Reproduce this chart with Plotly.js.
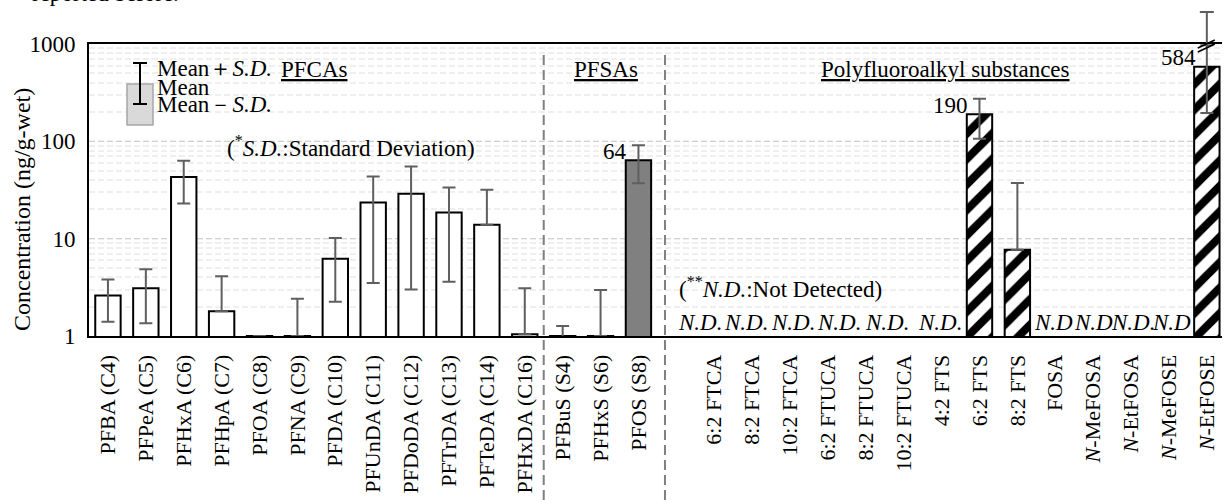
<!DOCTYPE html>
<html><head><meta charset="utf-8">
<script src="https://cdn.plot.ly/plotly-3.0.1.min.js"></script>
<style>
html,body{margin:0;padding:0;background:#fff;}
#chart{width:1225px;height:504px;}
</style></head><body><div id="chart"></div>
<script>
// ---------- data ----------
const pfcaNames = ['PFBA (C4)','PFPeA (C5)','PFHxA (C6)','PFHpA (C7)','PFOA (C8)','PFNA (C9)','PFDA (C10)','PFUnDA (C11)','PFDoDA (C12)','PFTrDA (C13)','PFTeDA (C14)','PFHxDA (C16)'];
const pfcaMean  = [2.6, 3.1, 43, 1.8, 1.0, 1.0, 6.2, 23.5, 29, 18.6, 13.9, 1.04];
const pfcaSD    = [1.2, 1.75, 20, 2.3, 0, 1.42, 3.95, 20, 26, 15, 18, 2.05];

const pfsaNames = ['PFBuS (S4)','PFHxS (S6)','PFOS (S8)'];
const pfsaMean  = [1.0, 1.0, 64];
const pfsaSD    = [0.27, 1.97, 27];

const polyNames = ['6:2 FTCA','8:2 FTCA','10:2 FTCA','6:2 FTUCA','8:2 FTUCA','10:2 FTUCA','4:2 FTS','6:2 FTS','8:2 FTS','FOSA','N-MeFOSA','N-EtFOSA','N-MeFOSE','N-EtFOSE'];
const polyLabels = ['6:2 FTCA','8:2 FTCA','10:2 FTCA','6:2 FTUCA','8:2 FTUCA','10:2 FTUCA','4:2 FTS','6:2 FTS','8:2 FTS','FOSA','<i>N</i>-MeFOSA','<i>N</i>-EtFOSA','<i>N</i>-MeFOSE','<i>N</i>-EtFOSE'];
const polyMean  = [null,null,null,null,null,null,null,190,7.7,null,null,null,null,584];
const polySD    = [null,null,null,null,null,null,null,84,29.6,null,null,null,null,389];
const ndText    = ['N.D.','N.D.','N.D.','N.D.','N.D.','','N.D.','','','N.D','N.D','N.D.','N.D',''];

const labelledBars = ['PFOS (S8)','6:2 FTS','N-EtFOSE'];
const yTickVals = [1,10,100,1000];
const yTickText = ['1','10','100','1000'];

// ---------- styling / geometry ----------
const ndShift = [-14,-6,3,11,21,0,-2,0,0,-2,0,2,3,0];
const W=1225,H=504,L=89,R=3,T=44,B=168;
const pw=W-L-R, ph=H-T-B;
const px = x => (x-L)/pw;
const py = y => (H-B-y)/ph;
const FONT = "'Liberation Serif', 'Times New Roman', Times, serif";
const FS = 23;
const blank = ' ';
const categories = [...pfcaNames, ...pfsaNames, blank, ...polyNames];
const minus = (m,s) => (m!=null && s!=null && m - s > 0) ? s : 0;

function barTrace(names, means, sds, fill, pattern){
  const t = {type:'bar', x:names, y:means, hoverinfo:'skip',
    marker:{color:fill, line:{color:'#000', width:2}},
    error_y:{type:'data', symmetric:false, array:sds,
      arrayminus:means.map((m,i)=>minus(m,sds[i])),
      color:'#5f5f5f', thickness:2, width:6.5}};
  if(pattern) t.marker.pattern = pattern;
  return t;
}

const traces = [
  {type:'scatter', mode:'markers', x:categories, y:categories.map(()=>1), marker:{opacity:0}, hoverinfo:'skip'},
  barTrace(pfcaNames, pfcaMean, pfcaSD, '#ffffff'),
  barTrace(pfsaNames, pfsaMean, pfsaSD, '#808080'),
  barTrace(polyNames, polyMean, polySD, '#ffffff', {shape:'/', fgcolor:'#000', bgcolor:'#fff', size:18, solidity:0.45})
];

const txt = (text, x, y, opts={}) => Object.assign({text, x:px(x), y:py(y), xref:'paper', yref:'paper',
  showarrow:false, xanchor:'left', yanchor:'middle', font:{family:FONT, size:FS, color:'#000'}}, opts);

const annotations = [];
const allNames=[...pfcaNames,...pfsaNames,...polyNames], allMean=[...pfcaMean,...pfsaMean,...polyMean];
labelledBars.forEach(n=>{
  const v = allMean[allNames.indexOf(n)];
  annotations.push({text:String(v), x:n, y:Math.log10(v), xref:'x', yref:'y', showarrow:false,
    xanchor:'right', yanchor:'middle', xshift:-9, yshift:9, font:{family:FONT,size:FS,color:'#000'}});
});
polyNames.forEach((n,i)=>{
  if(polyMean[i]==null && ndText[i]){
    annotations.push({text:'<i>'+ndText[i]+'</i>', x:n, y:py(322), xref:'x', yref:'paper', showarrow:false,
      xanchor:'center', yanchor:'middle', xshift:ndShift[i], font:{family:FONT,size:FS,color:'#000'}});
  }
});
const ul = s => '<span style="text-decoration:underline">'+s+'</span>';
annotations.push(txt(ul('PFCAs'), 314, 69, {xanchor:'center'}));
annotations.push(txt(ul('PFSAs'), 606, 69, {xanchor:'center'}));
annotations.push(txt(ul('Polyfluoroalkyl substances'), 945, 69, {xanchor:'center'}));
annotations.push(txt('Mean＋<i>S.D.</i>', 155, 68));
annotations.push(txt('Mean', 155, 87));
annotations.push(txt('Mean－<i>S.D.</i>', 155, 105));
annotations.push(txt('(<sup>*</sup><i>S.D.</i>:Standard Deviation)', 225, 146));
annotations.push(txt('(<sup>**</sup><i>N.D.</i>:Not Detected)', 677, 287));
annotations.push(txt('reported before.', 30, 8, {yanchor:'bottom'}));
annotations.push(txt('Concentration (ng/g-wet)', 22, 210, {xanchor:'center', textangle:-90, font:{family:FONT,size:24,color:'#000'}}));

const shapes = [];
[11.5, 14.7].forEach(xv=>{
  shapes.push({type:'line', xref:'x', yref:'paper', x0:xv, x1:xv, y0:py(500), y1:py(50),
    line:{color:'#808080', width:2, dash:'10px,5px'}});
});
shapes.push({type:'rect', xref:'paper', yref:'paper', x0:px(127), x1:px(153), y0:py(125), y1:py(84),
  fillcolor:'#d9d9d9', line:{color:'#a6a6a6', width:1.5}});
shapes.push({type:'line', xref:'paper', yref:'paper', x0:px(140), x1:px(140), y0:py(104), y1:py(63), line:{color:'#000', width:2}});
shapes.push({type:'line', xref:'paper', yref:'paper', x0:px(133), x1:px(147), y0:py(63), y1:py(63), line:{color:'#000', width:2}});
shapes.push({type:'line', xref:'paper', yref:'paper', x0:px(133), x1:px(147), y0:py(104), y1:py(104), line:{color:'#000', width:2}});
const lastBar = 'N-EtFOSE';
shapes.push({type:'line', xref:'x', yref:'paper', x0:lastBar, x1:lastBar, y0:1, y1:py(12), line:{color:'#5f5f5f', width:2}});
shapes.push({type:'line', xref:'x', xsizemode:'pixel', xanchor:lastBar, x0:-7, x1:7, yref:'paper', y0:py(12), y1:py(12), line:{color:'#5f5f5f', width:2}});
shapes.push({type:'line', xref:'x', xsizemode:'pixel', xanchor:lastBar, x0:-9, x1:8, yref:'paper', ysizemode:'pixel', yanchor:1, y0:-4, y1:4, line:{color:'#000', width:1.5}});
shapes.push({type:'line', xref:'x', xsizemode:'pixel', xanchor:lastBar, x0:-9, x1:8, yref:'paper', ysizemode:'pixel', yanchor:1, y0:-8, y1:0, line:{color:'#000', width:1.5}});

const layout = {
  width:W, height:H, margin:{l:L, r:R, t:T, b:B, pad:0},
  paper_bgcolor:'#fff', plot_bgcolor:'#fff', showlegend:false, barmode:'overlay', bargap:0.33,
  font:{family:FONT, size:FS, color:'#000'},
  xaxis:{type:'category', categoryorder:'array', categoryarray:categories, range:[-0.5, 29.4],
    tickmode:'array', tickvals:[...pfcaNames,...pfsaNames,...polyNames], ticktext:[...pfcaNames,...pfsaNames,...polyLabels],
    tickangle:-90, tickfont:{family:FONT, size:22, color:'#000'}, ticks:'', ticklabelstandoff:8,
    showgrid:false, showline:true, linecolor:'#000', linewidth:2, mirror:true, zeroline:false, fixedrange:true},
  yaxis:{type:'log', range:[0,3], tickmode:'array', tickvals:yTickVals, ticktext:yTickText,
    tickfont:{family:FONT, size:23, color:'#000'}, ticks:'', ticklabelstandoff:7,
    showgrid:true, gridcolor:'#d2d2d2', gridwidth:1.5, griddash:'6px,3px',
    minor:{dtick:'D1', showgrid:true, gridcolor:'#efefef', gridwidth:2, ticks:''},
    showline:true, linecolor:'#000', linewidth:2, zeroline:false, fixedrange:true},
  annotations, shapes
};
Plotly.newPlot('chart', traces, layout, {displayModeBar:false, staticPlot:true});
</script></body></html>
